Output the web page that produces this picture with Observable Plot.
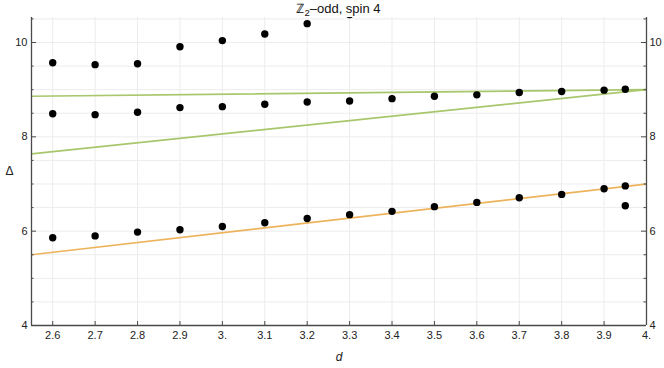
<!DOCTYPE html>
<html><head><meta charset="utf-8">
<script src="https://cdn.jsdelivr.net/npm/d3@7"></script>
<script src="https://cdn.jsdelivr.net/npm/@observablehq/plot@0.6"></script>
<style>body{margin:0;background:#fff}</style>
</head><body><div id="chart"></div>
<script>
// ---- data ----
const dValues = [2.6, 2.7, 2.8, 2.9, 3.0, 3.1, 3.2, 3.3, 3.4, 3.5, 3.6, 3.7, 3.8, 3.9, 3.95];
const upperDelta = [9.57, 9.53, 9.55, 9.91, 10.04, 10.18, 10.40, 10.59]; // first 8 d values
const middleDelta = [8.49, 8.47, 8.52, 8.62, 8.64, 8.69, 8.74, 8.76, 8.81, 8.86, 8.89, 8.94, 8.96, 8.99, 9.01];
const lowerDelta = [5.86, 5.90, 5.98, 6.03, 6.10, 6.18, 6.27, 6.35, 6.42, 6.52, 6.61, 6.71, 6.78, 6.90, 6.96];
const extraD = [3.95];
const extraDelta = [6.54];
const orangeD = [2.55, 4.0];
const orangeDelta = [5.50, 7.00];
const greenUpperD = [2.55, 4.0];
const greenUpperDelta = [8.86, 9.00];
const greenLowerD = [2.55, 4.0];
const greenLowerDelta = [7.64, 9.00];
const xTicks = [2.6, 2.7, 2.8, 2.9, 3.0, 3.1, 3.2, 3.3, 3.4, 3.5, 3.6, 3.7, 3.8, 3.9, 4.0];
const yMajor = [4, 6, 8, 10];
const yMinor = [4.5, 5, 5.5, 6.5, 7, 7.5, 8.5, 9, 9.5, 10.5];
const xDomain = [2.55, 4.0];
const yDomain = [4, 10.53];
const titleMain = "ℤ", titleSub = "2", titleRest = "–odd, spin 4";

// ---- tables ----
const points = [
  ...upperDelta.map((v, i) => ({d: dValues[i], delta: v})),
  ...middleDelta.map((v, i) => ({d: dValues[i], delta: v})),
  ...lowerDelta.map((v, i) => ({d: dValues[i], delta: v})),
  ...extraDelta.map((v, i) => ({d: extraD[i], delta: v}))
];
const toLine = (xs, ys) => xs.map((x, i) => ({d: x, delta: ys[i]}));
const orange = toLine(orangeD, orangeDelta);
const greenU = toLine(greenUpperD, greenUpperDelta);
const greenL = toLine(greenLowerD, greenLowerDelta);

const W = 664, H = 368, mL = 31, mR = 18, mT = 17, mB = 43;
const fW = W - mL - mR, fH = H - mT - mB;
const axisColor = "#4a4a4a";
const fmt = v => Number.isInteger(v) ? v + "." : v.toFixed(1);
const yfmt = v => String(v);

const plot = Plot.plot({
  width: W, height: H, marginLeft: mL, marginRight: mR, marginTop: mT, marginBottom: mB,
  style: {fontFamily: "'Liberation Sans', Arial, sans-serif", fontSize: "11px", color: "#222", background: "white"},
  x: {domain: xDomain},
  y: {domain: yDomain},
  marks: [
    Plot.gridX(xTicks.filter(v => v < 4), {stroke: "#ececec", strokeOpacity: 1}),
    Plot.gridY([...yMajor, ...yMinor].filter(v => v > 4), {stroke: "#ececec", strokeOpacity: 1}),
    Plot.line(greenU, {x: "d", y: "delta", stroke: "#A8C76C", strokeWidth: 1.7}),
    Plot.line(greenL, {x: "d", y: "delta", stroke: "#A8C76C", strokeWidth: 1.7}),
    Plot.line(orange, {x: "d", y: "delta", stroke: "#EDB35C", strokeWidth: 1.7}),
    Plot.dot(points, {x: "d", y: "delta", r: 3.7, fill: "black", stroke: "none"}),
    Plot.ruleX(xDomain, {stroke: axisColor, strokeWidth: 1.3}),
    Plot.ruleY([yDomain[0]], {stroke: axisColor, strokeWidth: 1.3}),
    Plot.tickX(xTicks, {x: d => d, insetTop: fH - 4, stroke: axisColor}),
    Plot.tickY(yMajor, {y: d => d, insetRight: fW - 5, stroke: axisColor}),
    Plot.tickY(yMinor, {y: d => d, insetRight: fW - 2.5, stroke: axisColor}),
    Plot.tickY(yMajor, {y: d => d, insetLeft: fW - 5, stroke: axisColor}),
    Plot.tickY(yMinor, {y: d => d, insetLeft: fW - 2.5, stroke: axisColor}),
    Plot.axisX({ticks: xTicks, tickSize: 0, tickPadding: 6, tickFormat: fmt, label: null}),
    Plot.axisY({anchor: "left", ticks: yMajor, tickSize: 0, tickPadding: 4, tickFormat: yfmt, label: null}),
    Plot.axisY({anchor: "right", ticks: yMajor, tickSize: 0, tickPadding: 3, tickFormat: yfmt, label: null}),
    Plot.text(["d"], {frameAnchor: "bottom", dy: 35, fontStyle: "italic", fontSize: 12, fill: "#222"}),
    Plot.text(["Δ"], {frameAnchor: "left", dx: -26, fontSize: 12, fill: "#222"})
  ]
});
document.getElementById("chart").appendChild(plot);

const svg = d3.select(plot);
// clip data marks (lines and dots) to the frame
svg.append("defs").append("clipPath").attr("id", "frameClip")
  .append("rect").attr("x", mL).attr("y", mT).attr("width", fW).attr("height", fH);
const dataGroups = svg.selectAll('g[aria-label="line"], g[aria-label="dot"]').nodes();
if (dataGroups.length) {
  const container = document.createElementNS("http://www.w3.org/2000/svg", "g");
  container.setAttribute("clip-path", "url(#frameClip)");
  dataGroups[0].parentNode.insertBefore(container, dataGroups[0]);
  dataGroups.forEach(n => container.appendChild(n));
}

const t = svg.append("text")
  .attr("x", mL + fW / 2).attr("y", 13)
  .attr("text-anchor", "middle")
  .attr("font-family", "'Liberation Sans', Arial, sans-serif")
  .attr("font-size", 13).attr("fill", "#111");
t.append("tspan").text(titleMain);
t.append("tspan").attr("font-size", 9.5).attr("dy", 3).text(titleSub);
t.append("tspan").attr("dy", -3).text(titleRest);
</script>
</body></html>
